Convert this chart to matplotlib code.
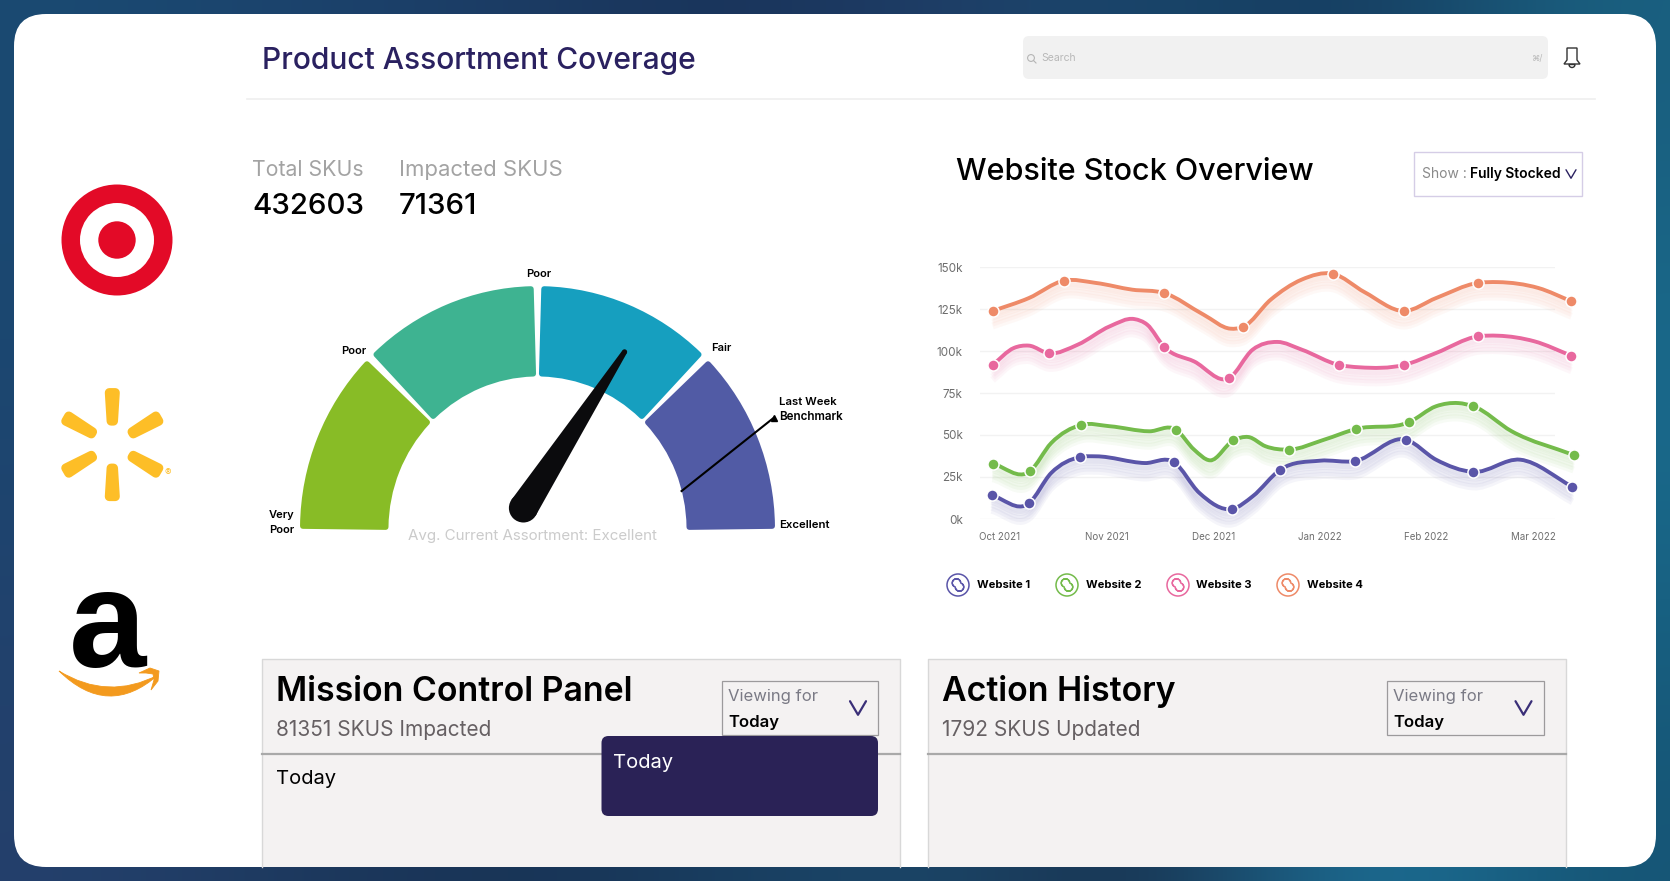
import numpy as np
import matplotlib
matplotlib.use("Agg")
import matplotlib.pyplot as plt
from matplotlib.patches import Circle, FancyBboxPatch, PathPatch, Polygon, Rectangle, Wedge
from matplotlib.path import Path
from matplotlib.transforms import Affine2D, offset_copy

plt.rcParams['font.family'] = ['Inter', 'DejaVu Sans']

# line chart data, months counted from Oct 2021, values in thousands
month_labels = ["Oct 2021", "Nov 2021", "Dec 2021", "Jan 2022", "Feb 2022", "Mar 2022"]
y_ticks = [0, 25, 50, 75, 100, 125, 150]
series_names = ["Website 1", "Website 2", "Website 3", "Website 4"]
series_colors = ["#5A55A8", "#74BB4B", "#E8689E", "#EE8A68"]

site1_months = [-0.08, 0.27, 0.48, 0.75, 0.90, 1.36, 1.63, 1.87, 2.18, 2.37, 2.63, 3.00, 3.33, 3.81, 4.09, 4.44, 4.88, 5.37]
site1_values = [14.1, 9.3, 27.4, 36.9, 37.3, 33.3, 33.9, 15.5, 6.0, 13.5, 29.4, 34.7, 34.5, 47.2, 35.3, 28.0, 35.3, 19.2]
site1_dots = [0, 1, 3, 6, 8, 10, 12, 13, 15, 17]

site2_months = [-0.07, 0.28, 0.48, 0.76, 1.03, 1.40, 1.65, 1.82, 1.97, 2.19, 2.33, 2.49, 2.71, 3.04, 3.34, 3.84, 4.09, 4.30, 4.44, 4.80, 5.38]
site2_values = [32.9, 28.4, 45.2, 56.0, 55.2, 52.2, 53.2, 41.3, 34.9, 46.8, 48.8, 43.3, 41.3, 47.2, 53.6, 57.7, 67.1, 69.0, 67.1, 52.2, 38.1]
site2_dots = [0, 1, 3, 6, 9, 12, 14, 15, 18, 20]

site3_months = [-0.07, 0.13, 0.27, 0.46, 0.73, 1.03, 1.26, 1.38, 1.54, 1.82, 2.15, 2.37, 2.60, 2.83, 3.18, 3.37, 3.79, 4.09, 4.48, 4.67, 5.01, 5.36]
site3_values = [91.7, 101.8, 103.2, 98.6, 103.8, 114.7, 119.0, 115.7, 102.4, 93.8, 83.9, 100.8, 105.4, 100.8, 91.7, 90.3, 91.7, 98.8, 108.7, 109.1, 105.8, 97.2]
site3_dots = [0, 3, 8, 10, 14, 16, 18, 21]

site4_months = [-0.07, 0.27, 0.60, 0.90, 1.24, 1.54, 1.91, 2.16, 2.28, 2.54, 2.83, 3.12, 3.42, 3.79, 4.09, 4.48, 4.67, 5.05, 5.36]
site4_values = [123.8, 131.5, 141.9, 140.5, 136.5, 134.5, 121.6, 113.3, 114.3, 130.6, 142.5, 146.0, 135.0, 123.8, 131.5, 140.5, 141.0, 137.5, 129.6]
site4_dots = [0, 2, 5, 8, 11, 13, 15, 18]

# gauge data, on a 0-100 scale from left to right
gauge_edges = [0, 25, 50, 75, 100]
gauge_colors = ["#88BC26", "#3EB391", "#169FBF", "#515BA5"]
needle_value = 68.3
benchmark_from = 91.8
benchmark_to = 86.0

W, H = 1670, 881
fig = plt.figure(figsize=(W / 100, H / 100), dpi=100)
ax = fig.add_axes([0, 0, 1, 1])
ax.set_xlim(0, W)
ax.set_ylim(H, 0)
ax.axis("off")

# blurred photo behind the card
bg = np.array([
    [[26, 74, 114], [28, 66, 108], [28, 60, 100], [24, 50, 88], [32, 62, 104], [24, 72, 108], [22, 56, 92], [26, 96, 128]],
    [[28, 70, 112], [30, 66, 108], [30, 60, 100], [26, 54, 92], [28, 66, 104], [24, 70, 104], [24, 80, 112], [26, 112, 146]],
    [[36, 64, 108], [28, 56, 92], [24, 50, 84], [24, 62, 96], [28, 74, 108], [24, 42, 70], [30, 120, 160], [22, 84, 116]],
], dtype=float) / 255
ax.imshow(bg, extent=(0, W, H, 0), aspect="auto", interpolation="bicubic", zorder=0)
ax.set_xlim(0, W)
ax.set_ylim(H, 0)


def round_box(x0, y0, x1, y1, r, **kw):
    p = FancyBboxPatch((x0 + r, y0 + r), x1 - x0 - 2 * r, y1 - y0 - 2 * r,
                       boxstyle="round,pad=%g,rounding_size=%g" % (r, r), **kw)
    ax.add_patch(p)
    return p


def label(x, y, s, size, color="black", weight="normal", ha="left", va="center", **kw):
    return ax.text(x, y, s, fontsize=size, color=color, fontweight=weight, ha=ha, va=va, zorder=6, **kw)


def chevron(x, y, half, color, lw=1.6):
    ax.plot([x - half, x, x + half], [y - half * 0.85, y + half * 0.85, y - half * 0.85],
            color=color, lw=lw, zorder=6, solid_capstyle="round")


round_box(14, 14, 1656, 867, 32, fc="white", ec="none", zorder=1)

# header
label(262, 61, "Product Assortment Coverage", 21.6, "#2A2160", "medium")
ax.plot([247, 1595], [99, 99], color="#efefef", lw=1.2, zorder=2)
round_box(1023, 36, 1548, 79, 6, fc="#f1f1f1", ec="none", zorder=2)
ax.add_patch(Circle((1031, 58), 3.4, fc="none", ec="#b5b5b5", lw=0.8, zorder=3))
ax.plot([1033.5, 1036], [60.5, 63], color="#b5b5b5", lw=0.8, zorder=3)
label(1041, 58, "Search", 7.5, "#b8b8b8")
label(1532, 58, "⌘/", 6, "#b8b8b8")

# bell
bell = Path([(1564, 64), (1567, 60), (1567, 55), (1567, 48), (1572, 48), (1577, 48), (1577, 55), (1577, 60), (1580, 64), (1564, 64)],
            [Path.MOVETO, Path.LINETO, Path.CURVE3, Path.CURVE3, Path.CURVE3, Path.CURVE3, Path.CURVE3, Path.LINETO, Path.LINETO, Path.CLOSEPOLY])
ax.add_patch(PathPatch(bell, fc="none", ec="#333333", lw=1, zorder=3))
ax.add_patch(Wedge((1572, 64.5), 3, 0, 180, fc="none", ec="#333333", lw=1, zorder=3))

# logos
ax.add_patch(Circle((117, 240), 55.5, fc="#E30A27", ec="none", zorder=2))
ax.add_patch(Circle((117, 240), 37, fc="white", ec="none", zorder=2))
ax.add_patch(Circle((117, 240), 18.7, fc="#E30A27", ec="none", zorder=2))

for deg in [90, 30, -30, -90, -150, 150]:
    a = np.radians(deg)
    ux, uy = np.cos(a), -np.sin(a)
    nx_, ny_ = -uy, ux
    pts = [(112.3 + ux * 23.5 + nx_ * 1.2, 444.6 + uy * 23.5 + ny_ * 1.2),
           (112.3 + ux * 52 + nx_ * 3, 444.6 + uy * 52 + ny_ * 3),
           (112.3 + ux * 52 - nx_ * 3, 444.6 + uy * 52 - ny_ * 3),
           (112.3 + ux * 23.5 - nx_ * 1.2, 444.6 + uy * 23.5 - ny_ * 1.2)]
    ax.add_patch(Polygon(pts, closed=True, fc="#FDBE27", ec="#FDBE27", lw=6.5, joinstyle="round", zorder=2))
label(168, 473.5, "®", 7, "#FDBE27", ha="center")

label(108, 617, "a", 100, "black", "bold", ha="center", va="center_baseline", family=["Liberation Sans"])
smile = Path([(59, 671), (108, 719), (158, 675), (108, 701), (59, 671)],
             [Path.MOVETO, Path.CURVE3, Path.CURVE3, Path.CURVE3, Path.CURVE3])
ax.add_patch(PathPatch(smile, fc="#F39A1E", ec="#F39A1E", lw=0.6, zorder=2))
hook = Path([(139, 673), (150, 668), (159, 671), (158, 681), (151, 690), (154, 680), (153, 674), (146, 673), (139, 673)],
            [Path.MOVETO, Path.LINETO, Path.LINETO, Path.LINETO, Path.LINETO, Path.LINETO, Path.LINETO, Path.LINETO, Path.CLOSEPOLY])
ax.add_patch(PathPatch(hook, fc="#F39A1E", ec="#F39A1E", lw=0.6, zorder=2))

# sku counters
label(252, 170, "Total SKUs", 15.3, "#a3a3a3")
label(399, 170, "Impacted SKUS", 15.9, "#a3a3a3")
label(252, 207, "432603", 21.2, "black", "medium")
label(399, 207, "71361", 21.2, "black", "medium")

# gauge, y axis points down so the top half runs from 180 to 360 degrees
gx, gy = 537.5, 529
r_out, r_in = 237.5, 149
squash = 1.023
edge = 2.8
gap = 1.6
gauge_tr = Affine2D().scale(1, squash).translate(gx, gy) + ax.transData
for i in range(4):
    t0 = 180 + gauge_edges[i] * 1.8 + gap
    t1 = 180 + gauge_edges[i + 1] * 1.8 - gap
    if i == 0:
        t0 = 180.7
    if i == 3:
        t1 = 359.3
    w = Wedge((0, 0), r_out - edge, t0, t1, width=r_out - r_in - 2 * edge, fc=gauge_colors[i], ec=gauge_colors[i],
              lw=4, joinstyle="round", zorder=2)
    w.set_transform(gauge_tr)
    ax.add_patch(w)

hub = np.array([523.4, 508.0])
t = np.radians(180 + needle_value * 1.8)
u = np.array([np.cos(t), np.sin(t)])
n = np.array([-u[1], u[0]])
tip = hub + u * 186
ax.add_patch(Polygon([hub + n * 14.5, tip + n * 2.6, tip - n * 2.6, hub - n * 14.5], closed=True, fc="#0b0b0d", ec="none", zorder=4))
ax.add_patch(Circle(hub, 14.5, fc="#0b0b0d", ec="none", zorder=4))
ax.add_patch(Circle(tip, 2.6, fc="#0b0b0d", ec="none", zorder=4))

b0 = np.radians(180 + benchmark_from * 1.8)
b1 = np.radians(180 + benchmark_to * 1.8)
end = (gx + 261 * np.cos(b1), gy + 261 * np.sin(b1))
ax.plot([gx + 149 * np.cos(b0), end[0]], [gy + 149 * np.sin(b0), end[1]], color="black", lw=1.5, zorder=3)
ax.plot(end[0], end[1], marker="^", ms=4.5, color="black", zorder=3)

label(539, 274, "Poor", 8, ha="center", weight="semibold")
label(354, 351, "Poor", 8, ha="center", weight="semibold")
label(721, 348, "Fair", 8, ha="center", weight="semibold")
label(282, 515, "Very", 8, ha="center", weight="semibold")
label(282, 530, "Poor", 8, ha="center", weight="semibold")
label(779, 525, "Excellent", 8.2, weight="semibold")
label(779, 402, "Last Week", 8.2, weight="semibold")
label(779, 417, "Benchmark", 8.4, weight="semibold")
label(532, 536, "Avg. Current Assortment: Excellent", 10.9, "#cbcbcb", ha="center")

# stock overview
label(956, 172, "Website Stock Overview", 22, "black", "medium")
ax.add_patch(Rectangle((1414, 152), 168, 44, fc="white", ec="#d5cde6", lw=1, zorder=2))
label(1422, 174, "Show :", 10, "#8a8a8a")
label(1470, 174, "Fully Stocked", 10, "black", "semibold")
chevron(1571, 174, 5, "#2A2160", 1)

# line chart
cx = fig.add_axes([980 / W, 1 - 519 / H, (1555 - 980) / W, (519 - 267) / H], zorder=3)
cx.patch.set_alpha(0)
cx.set_xlim(-0.188, 5.206)
cx.set_ylim(0, 150)
for s in cx.spines.values():
    s.set_visible(False)
cx.set_xticks(range(6))
cx.set_xticklabels(month_labels)
cx.set_yticks(y_ticks)
cx.set_yticklabels(["%dk" % v for v in y_ticks])
cx.tick_params(axis="y", length=0, labelsize=8.4, labelcolor="#6e6e6e", pad=12.5)
cx.tick_params(axis="x", length=0, labelsize=7, labelcolor="#6e6e6e", pad=9.5)
cx.grid(axis="y", color="#f2f2f2", lw=1)
cx.set_axisbelow(True)


def smooth_path(xs, ys):
    # bezier segments through the points, slope from the two neighbours
    xs = np.array(xs)
    ys = np.array(ys)
    slopes = np.gradient(ys, xs, edge_order=1)
    verts = [(xs[0], ys[0])]
    codes = [Path.MOVETO]
    for i in range(len(xs) - 1):
        d = (xs[i + 1] - xs[i]) / 3
        verts += [(xs[i] + d, ys[i] + slopes[i] * d), (xs[i + 1] - d, ys[i + 1] - slopes[i + 1] * d), (xs[i + 1], ys[i + 1])]
        codes += [Path.CURVE4] * 3
    return Path(verts, codes)


all_series = [(site1_months, site1_values, site1_dots), (site2_months, site2_values, site2_dots),
              (site3_months, site3_values, site3_dots), (site4_months, site4_values, site4_dots)]
for (xs, ys, dots), col in zip(all_series, series_colors):
    line = smooth_path(xs, ys)
    for dy in [2, 4, 6, 9, 12, 15]:
        tr = offset_copy(cx.transData, fig=fig, x=0, y=-dy, units="dots")
        cx.add_patch(PathPatch(line, fc="none", ec=col, lw=5, alpha=0.055, transform=tr, clip_on=False, zorder=2))
    cx.add_patch(PathPatch(line, fc="none", ec=col, lw=2.8, clip_on=False, zorder=3, capstyle="round"))
    cx.plot(np.array(xs)[dots], np.array(ys)[dots], ls="none", marker="o", ms=8, mfc=col, mec="white", mew=1.1, clip_on=False, zorder=4)

# legend
icon_x = [958, 1067, 1178, 1288]
text_x = [977, 1086, 1195.5, 1307]
for name, col, ix, tx in zip(series_names, series_colors, icon_x, text_x):
    ax.add_patch(Circle((ix, 585), 11, fc="none", ec=col, lw=1.1, zorder=3))
    ax.add_patch(Wedge((ix - 1.5, 583), 4.2, 120, 360, width=0.01, fc="none", ec=col, lw=1, zorder=3))
    ax.add_patch(Wedge((ix + 1.5, 587), 4.2, 300, 180, width=0.01, fc="none", ec=col, lw=1, zorder=3))
    label(tx, 585, name, 8.1, "black", "bold")

# bottom panels
for x0, x1, title, sub, bx0, bx1, tx in [(262, 900, "Mission Control Panel", "81351 SKUS Impacted", 722, 878, 276),
                                         (928, 1565.5, "Action History", "1792 SKUS Updated", 1387, 1543.5, 942)]:
    ax.add_patch(Rectangle((x0, 659), x1 - x0, 208, fc="#f4f2f2", ec="none", zorder=2))
    ax.plot([x0, x0, x1, x1], [867, 659, 659, 867], color="#d8d8d8", lw=1, zorder=3)
    ax.plot([x0, x1], [754, 754], color="#a9a9a9", lw=1.6, zorder=3)
    label(tx, 692, title, 24.4, "black", "semibold")
    label(tx, 730, sub, 15, "#666063")
    ax.add_patch(Rectangle((bx0, 681), bx1 - bx0, 54, fc="none", ec="#9c9a9c", lw=0.9, zorder=3))
    label(bx0 + 6, 696, "Viewing for", 12, "#7a7a85")
    label(bx0 + 6, 722, "Today", 12, "black", "semibold")
    chevron(bx1 - 20, 708, 8, "#3A2F78", 1.6)

round_box(601.5, 736, 878, 816, 7, fc="#2A2256", ec="none", zorder=4)
label(613, 763, "Today", 14.5, "white")
label(276, 779, "Today", 14.5, "black")

fig.savefig("out.png", dpi=100)
